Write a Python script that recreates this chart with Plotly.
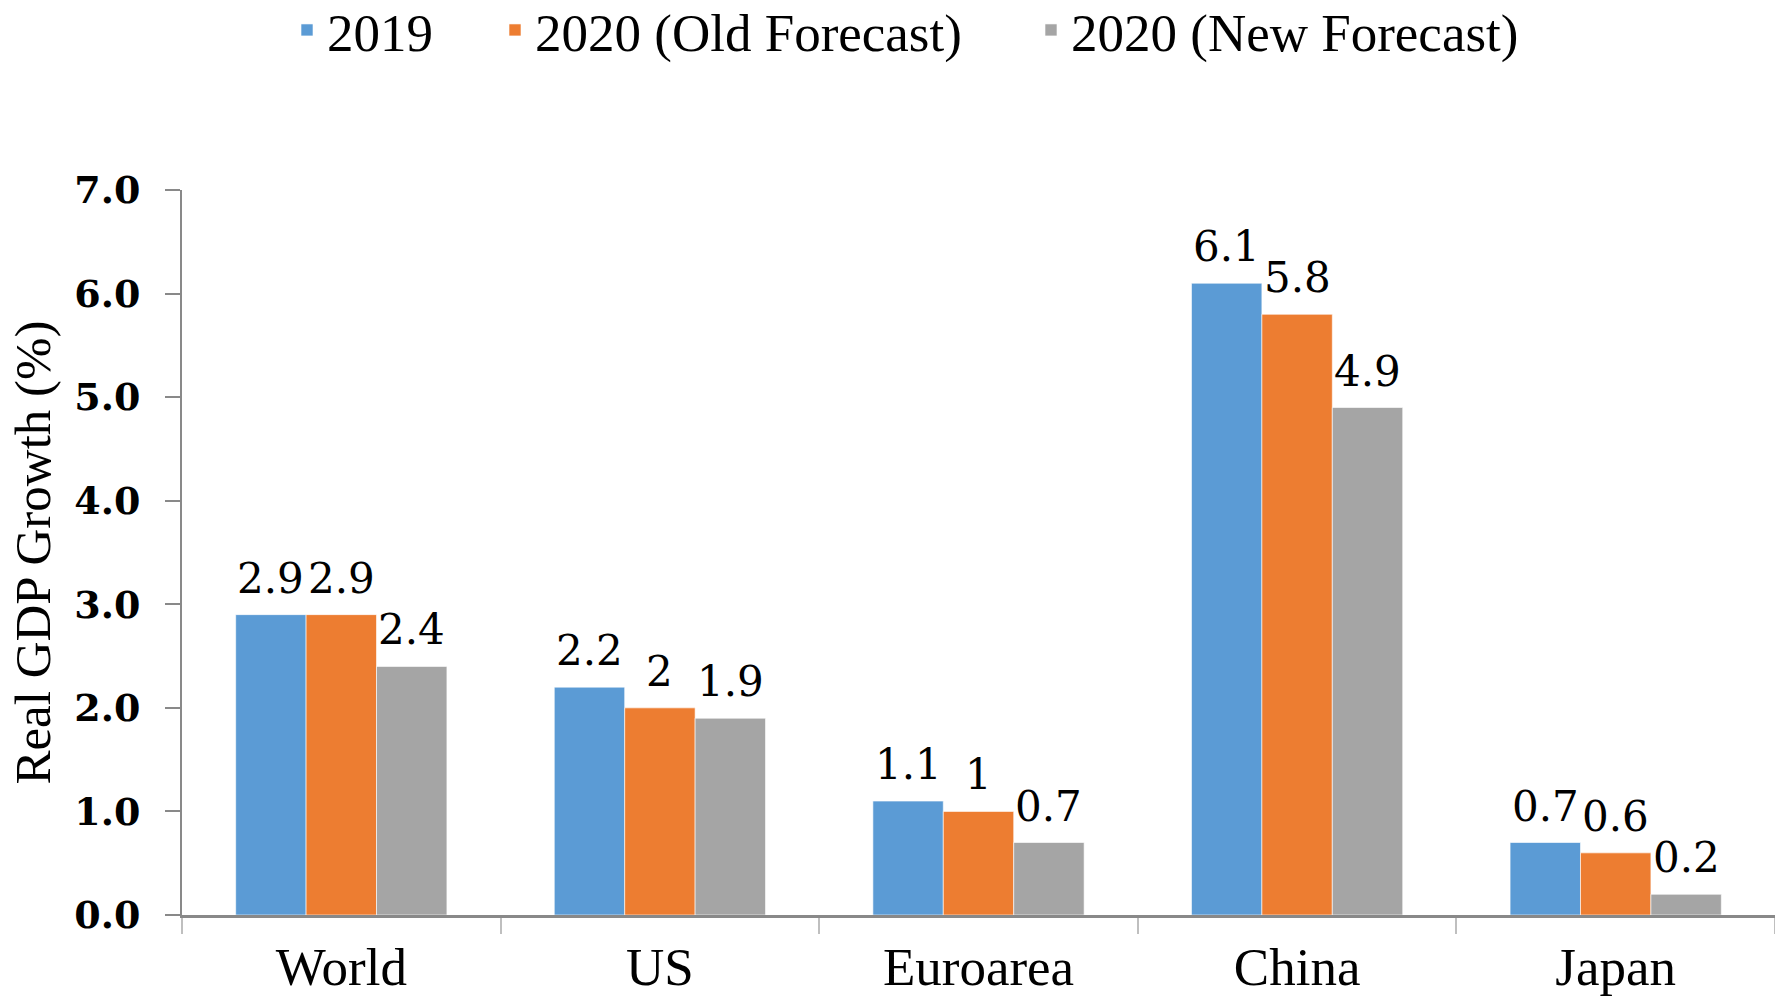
import plotly.graph_objects as go

# Real GDP growth by economy (%)
regions = ["World", "US", "Euroarea", "China", "Japan"]
growth_2019 = [2.9, 2.2, 1.1, 6.1, 0.7]
growth_2020_old = [2.9, 2.0, 1.0, 5.8, 0.6]
growth_2020_new = [2.4, 1.9, 0.7, 4.9, 0.2]
value_labels_2019 = ["2.9", "2.2", "1.1", "6.1", "0.7"]
value_labels_old = ["2.9", "2", "1", "5.8", "0.6"]
value_labels_new = ["2.4", "1.9", "0.7", "4.9", "0.2"]
y_ticks = [0, 1, 2, 3, 4, 5, 6, 7]

series = [
    ("2019", growth_2019, value_labels_2019, "#5B9BD5", "legend"),
    ("2020 (Old Forecast)", growth_2020_old, value_labels_old, "#ED7D31", "legend2"),
    ("2020 (New Forecast)", growth_2020_new, value_labels_new, "#A5A5A5", "legend3"),
]

SERIF = "Liberation Serif"
NUM_FONT = "DejaVu Serif"
BAR_GAP = 0.337
bar_w = (1 - BAR_GAP) / len(series)

fig = go.Figure()
annotations = []
for k, (name, vals, labels, color, lg) in enumerate(series):
    fig.add_trace(go.Bar(
        x=regions, y=vals, name=name,
        marker=dict(color=color, line=dict(color="rgba(255,255,255,0.6)", width=1)),
        legend=lg, showlegend=True,
    ))
    # value labels sit above each bar, centred on its slot within the group
    offset = (k - (len(series) - 1) / 2) * bar_w
    for i, (v, t) in enumerate(zip(vals, labels)):
        annotations.append(dict(
            x=i + offset, y=v, xref="x", yref="y", text=t, showarrow=False,
            yanchor="bottom", xanchor="center", yshift=10,
            font=dict(family=NUM_FONT, size=42, color="#000000"),
        ))

legend_common = dict(
    orientation="h", xref="container", yref="container",
    yanchor="middle", xanchor="left", y=0.970,
    font=dict(family=SERIF, size=53, color="#000000"),
    bgcolor="rgba(0,0,0,0)", borderwidth=0,
)

fig.update_layout(
    width=1775, height=1000,
    margin=dict(l=182, r=0, t=190, b=85, autoexpand=False),
    paper_bgcolor="white", plot_bgcolor="white",
    barmode="group", bargap=BAR_GAP, bargroupgap=0,
    showlegend=True,
    legend=dict(legend_common, x=287 / 1775),
    legend2=dict(legend_common, x=495 / 1775),
    legend3=dict(legend_common, x=1031 / 1775),
    annotations=annotations,
    xaxis=dict(
        type="category", range=[-0.5, len(regions) - 0.5],
        tickson="boundaries", ticks="outside", ticklen=16, tickwidth=1.5,
        tickcolor="#BFBFBF",
        showline=True, linecolor="#898989", linewidth=2.5,
        showgrid=False, zeroline=False,
        tickfont=dict(family=SERIF, size=53, color="#000000"),
        ticklabelstandoff=4,
        automargin=False,
    ),
    yaxis=dict(
        range=[0, 7], tickvals=y_ticks, tickformat=".1f",
        ticks="outside", ticklen=15, tickwidth=1.5, tickcolor="#898989",
        showline=True, linecolor="#898989", linewidth=2,
        showgrid=False, zeroline=False,
        tickfont=dict(family=NUM_FONT, size=38, color="#000000", weight="bold"),
        ticklabelstandoff=17,
        title=dict(text="Real GDP Growth (%)", standoff=7,
                   font=dict(family=SERIF, size=51, color="#000000")),
        automargin=False,
    ),
)

fig.write_html("out.html")
